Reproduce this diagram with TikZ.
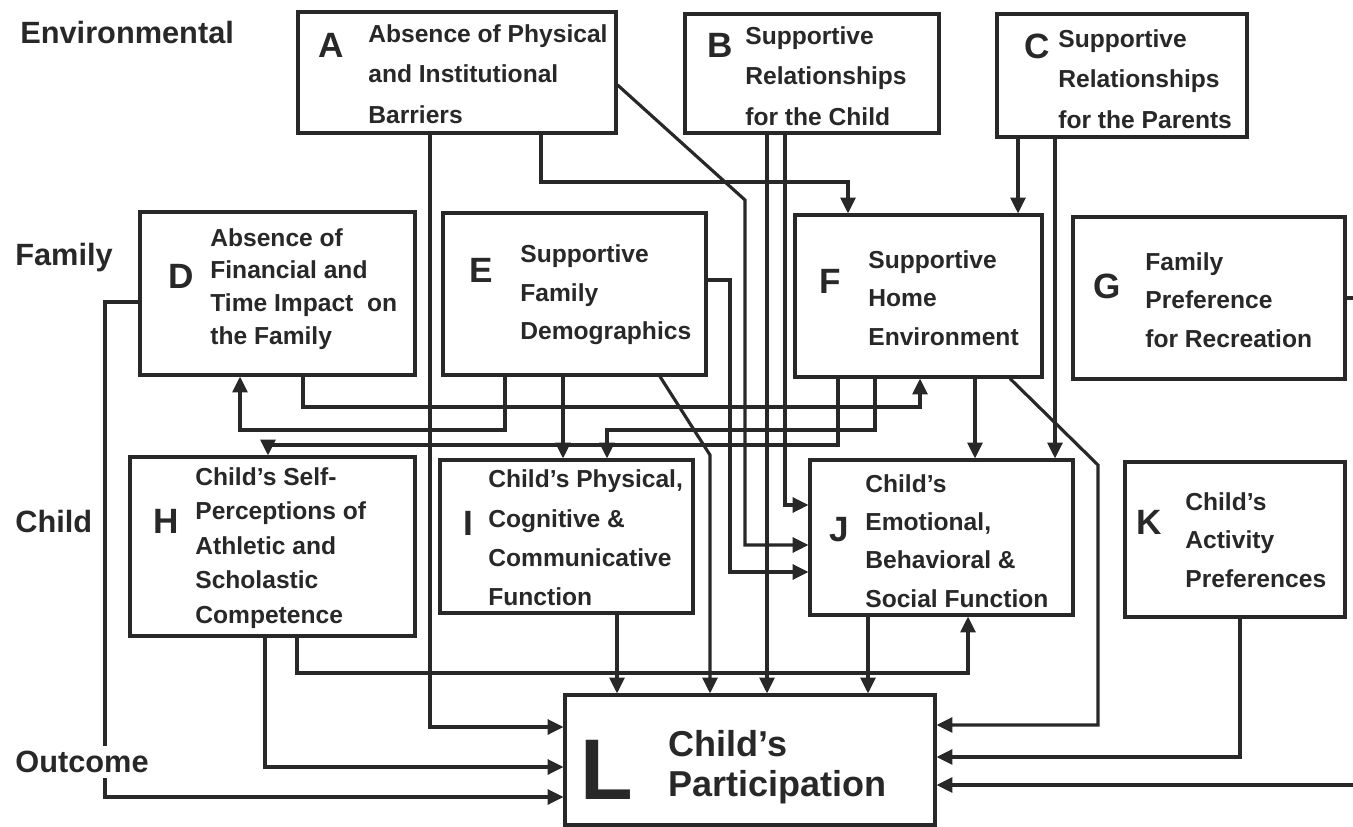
\documentclass[tikz,border=0pt]{standalone}
\usepackage{fontspec}
\setmainfont{Liberation Sans}
\usetikzlibrary{arrows.meta}

\begin{document}
\begin{tikzpicture}[x=0.02cm,y=-0.02cm]
\definecolor{inkgray}{RGB}{40,40,40}
\tikzset{
  factor/.style={draw=inkgray, line width=1.8pt, inner sep=0pt},
  letter/.style={text=inkgray, inner sep=0pt, font=\fontsize{20}{20}\selectfont\bfseries},
  lines/.style={text=inkgray, anchor=west, inner sep=0pt, align=left, font=\fontsize{14}{#1}\selectfont\bfseries},
  rowlabel/.style={text=inkgray, anchor=west, fill=white, inner xsep=0pt, inner ysep=3pt, font=\fontsize{17.5}{20}\selectfont\bfseries},
  conn/.style={draw=inkgray, line width=1.8pt, -{Triangle[length=9pt,width=8.5pt]}},
}
\useasboundingbox[fill=white] (0,0) rectangle (1353,827);

	% environmental factors
	\node[factor, minimum width=6.36cm, minimum height=2.42cm] (A) at (457,72.5) {};
	\node[letter] (A-l) at (331,45) {A};
	\node[lines=23] (A-t) at (368,74) {Absence of Physical\\and Institutional\\Barriers};

	\node[factor, minimum width=5.08cm, minimum height=2.38cm] (B) at (812,73.5) {};
	\node[letter] (B-l) at (720,45) {B};
	\node[lines=23] (B-t) at (745,76) {Supportive\\Relationships\\for the Child};

	\node[factor, minimum width=5.0cm, minimum height=2.46cm] (C) at (1122,75.5) {};
	\node[letter] (C-l) at (1037,46) {C};
	\node[lines=23] (C-t) at (1058,79) {Supportive\\Relationships\\for the Parents};

	% family factors
	\node[factor, minimum width=5.5cm, minimum height=3.26cm] (D) at (277.5,293.5) {};
	\node[letter] (D-l) at (181,276) {D};
	\node[lines=18.7] (D-t) at (210,289) {Absence of\\Financial and\\Time Impact~ on\\the Family};

	\node[factor, minimum width=5.26cm, minimum height=3.24cm] (E) at (574.5,294) {};
	\node[letter] (E-l) at (481,270) {E};
	\node[lines=22] (E-t) at (520,295) {Supportive\\Family\\Demographics};

	\node[factor, minimum width=4.94cm, minimum height=3.24cm] (F) at (918.5,296) {};
	\node[letter] (F-l) at (830,281) {F};
	\node[lines=22] (F-t) at (868,298) {Supportive\\Home\\Environment};

	\node[factor, minimum width=5.44cm, minimum height=3.24cm] (G) at (1209,298) {};
	\node[letter] (G-l) at (1107,286) {G};
	\node[lines=22] (G-t) at (1145,300) {Family\\Preference\\for Recreation};

	% child factors
	\node[factor, minimum width=5.7cm, minimum height=3.58cm] (H) at (272.5,546.5) {};
	\node[letter] (H-l) at (166,521) {H};
	\node[lines=19.6] (H-t) at (195,548) {Child's Self-\\Perceptions of\\Athletic and\\Scholastic\\Competence};

	\node[factor, minimum width=5.06cm, minimum height=3.06cm] (I) at (566.5,536.5) {};
	\node[letter] (I-l) at (468,523) {I};
	\node[lines=22.4] (I-t) at (488,538) {Child's Physical,\\Cognitive \&\\Communicative\\Function};

	\node[factor, minimum width=5.26cm, minimum height=3.1cm] (J) at (941.5,537.5) {};
	\node[letter] (J-l) at (839,530) {J};
	\node[lines=21.8] (J-t) at (865,541) {Child's\\Emotional,\\Behavioral \&\\Social Function};

	\node[factor, minimum width=4.4cm, minimum height=3.1cm] (K) at (1235,539.5) {};
	\node[letter] (K-l) at (1149,522) {K};
	\node[lines=22] (K-t) at (1185,540) {Child's\\Activity\\Preferences};

	% outcome
	\node[factor, minimum width=7.4cm, minimum height=2.6cm] (L) at (750,760) {};
	\node[letter, font=\fontsize{49}{49}\selectfont\bfseries] (L-l) at (607,770) {L};
	\node[lines=22, font=\fontsize{20.5}{22.5}\selectfont\bfseries] (L-t) at (668,767) {Child's\\Participation};

	% from A, B, C
	\draw[conn] (A.south -| 430,0) |- (L.west |- 0,727);
	\draw[conn] (A.south -| 541,0) -- (541,182) -| (F.north -| 848,0);
	\draw[conn] (A.east |- 0,85) -- (745,200) |- (J.west |- 0,545);
	\draw[conn] (B.south -| 767,0) -- (L.north -| 767,0);
	\draw[conn] (B.south -| 785,0) |- (J.west |- 0,505);
	\draw[conn] (C.south -| 1018,0) -- (F.north -| 1018,0);
	\draw[conn] (C.south -| 1055,0) -- (J.north -| 1055,0);

	% from D, E, F, G
	\draw[conn] (D.west |- 0,302) -- (105,302) |- (L.west |- 0,797);
	\draw[conn] (D.south -| 303,0) -- (303,407) -| (F.south -| 920,0);
	\draw[conn] (E.south -| 505,0) -- (505,430) -| (D.south -| 240,0);
	\draw[conn] (E.south -| 563,0) -- (I.north -| 563,0);
	\draw[conn] (E.south -| 660,0) -- (710,455) -- (L.north -| 710,0);
	\draw[conn] (E.east |- 0,280) -- (730,280) |- (J.west |- 0,572);
	\draw[conn] (F.south -| 875,0) -- (875,430) -| (I.north -| 607,0);
	\draw[conn] (F.south -| 838,0) -- (838,445) -| (H.north -| 268,0);
	\draw[conn] (F.south -| 975,0) -- (J.north -| 975,0);
	\draw[conn] (F.south -| 1010,0) -- (1098,465) |- (L.east |- 0,725);
	\draw[conn] (G.east |- 0,298) -- (1370,298) |- (L.east |- 0,785);

	% from H, I, J, K
	\draw[conn] (H.south -| 265,0) |- (L.west |- 0,767);
	\draw[conn] (H.south -| 297,0) -- (297,673) -| (J.south -| 968,0);
	\draw[conn] (I.south -| 617,0) -- (L.north -| 617,0);
	\draw[conn] (J.south -| 868,0) -- (L.north -| 868,0);
	\draw[conn] (K.south -| 1240,0) |- (L.east |- 0,757);

	% levels
	\node[rowlabel] (env) at (20,33) {Environmental};
	\node[rowlabel] (fam) at (15,258) {Family};
	\node[rowlabel] (chd) at (15,522) {Child};
	\node[rowlabel] (out) at (15,762) {Outcome};

\end{tikzpicture}
\end{document}
